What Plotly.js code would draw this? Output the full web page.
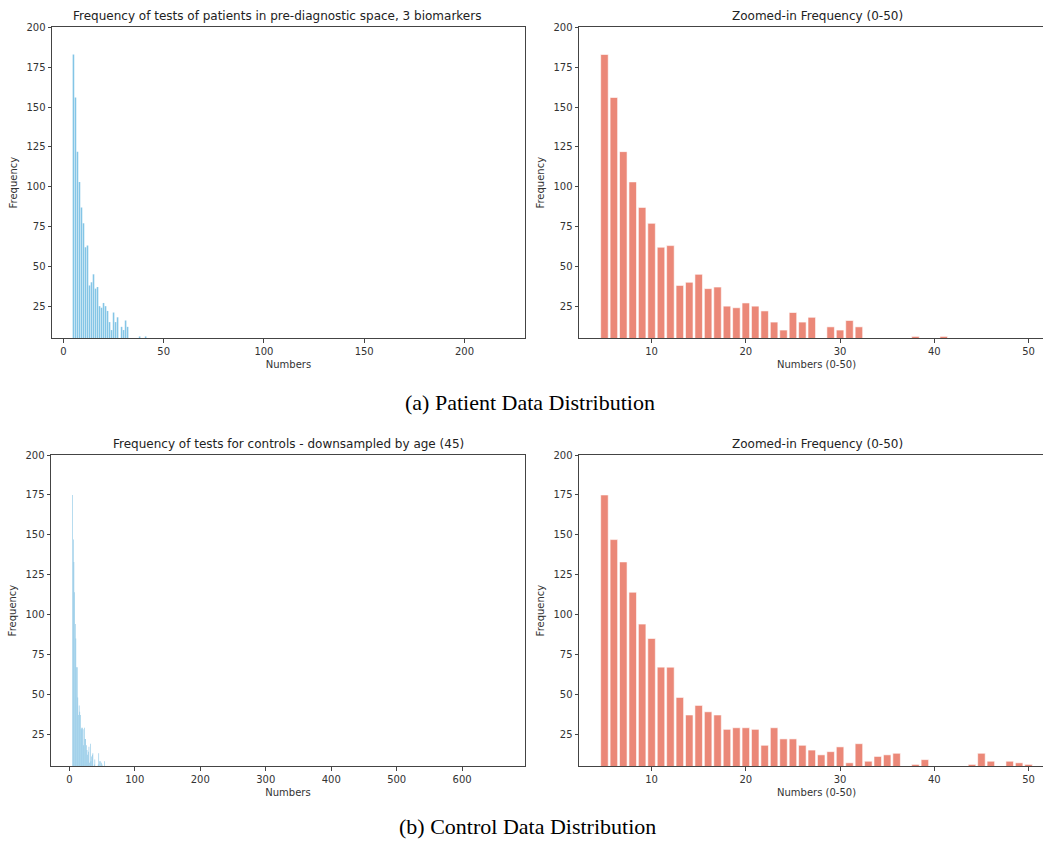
<!DOCTYPE html>
<html>
<head>
<meta charset="utf-8">
<script src="https://cdn.plot.ly/plotly-3.0.1.min.js"></script>
<style>
  html, body { margin: 0; padding: 0; background: #fff; overflow: hidden; }
  #chart { width: 1056px; height: 841px; }
</style>
</head>
<body>
<div id="chart"></div>
<script>
// Number of tests (x values)
const testNumbers = [5,6,7,8,9,10,11,12,13,14,15,16,17,18,19,20,21,22,23,24,25,26,27,28,29,30,
  31,32,33,34,35,36,37,38,39,40,41,42,43,44,45,46,47,48,49,50,51,52,53,54,55];

// Patients in pre-diagnostic space, 3 biomarkers
const patientFreq = [183,156,122,103,87,77,62,63,38,40,45,36,37,25,24,27,25,22,15,10,21,15,18,0,12,10,
  16,12,0,0,0,0,0,6,0,0,6,0,0,0,0,0,0,0,0,0,0,0,0,0,0];

// Controls, downsampled by age (45)
const controlFreq = [175,147,133,114,94,85,67,67,48,37,43,39,37,28,29,29,28,18,29,22,22,18,15,12,14,17,
  7,19,8,11,12,13,0,6,9,0,0,0,0,6,13,8,0,8,7,6,0,0,0,8,0];

const yTicks = [25,50,75,100,125,150,175,200];
const xTicksPatient = [0,50,100,150,200];
const xTicksControl = [0,100,200,300,400,500,600];
const xTicksZoom = [10,20,30,40,50];

const titles = {
  tl: "Frequency of tests of patients in pre-diagnostic space, 3 biomarkers",
  tr: "Zoomed-in Frequency (0-50)",
  bl: "Frequency of tests for controls - downsampled by age (45)",
  br: "Zoomed-in Frequency (0-50)",
  capA: "(a) Patient Data Distribution",
  capB: "(b) Control Data Distribution"
};

const W = 1056, H = 841;
const px = v => v / W;
const py = v => 1 - v / H;

const blue = "rgb(128,196,230)";
const salmon = "#EB8878";

const traces = [
  {type: "bar", x: testNumbers, y: patientFreq, width: 0.8, xaxis: "x", yaxis: "y",
   marker: {color: blue, line: {color: "rgba(255,255,255,0.5)", width: 0.2}}},
  {type: "bar", x: testNumbers, y: patientFreq, width: 0.8, xaxis: "x2", yaxis: "y2",
   marker: {color: salmon, line: {color: "#fff", width: 0.6}}},
  {type: "bar", x: testNumbers, y: controlFreq, width: 0.8, xaxis: "x3", yaxis: "y3",
   marker: {color: "rgb(110,185,225)", line: {color: "rgba(255,255,255,0.5)", width: 0.1}}},
  {type: "bar", x: testNumbers, y: controlFreq, width: 0.8, xaxis: "x4", yaxis: "y4",
   marker: {color: salmon, line: {color: "#fff", width: 0.6}}}
];

const tickFont = {family: "DejaVu Sans", size: 10, color: "#333"};
const titleFont = {family: "DejaVu Sans", size: 10, color: "#333"};

function xax(domain, range, ticks, title, anchor) {
  return {
    domain: domain, range: range, anchor: anchor,
    tickvals: ticks, ticks: "outside", ticklen: 3.5, tickwidth: 1, tickcolor: "#444",
    showline: true, linecolor: "#444", linewidth: 1, mirror: true,
    showgrid: false, zeroline: false, tickfont: tickFont,
    title: {text: title, font: titleFont, standoff: 5},
    automargin: false, fixedrange: true
  };
}
function yax(domain, anchor) {
  return {
    domain: domain, range: [5, 200], anchor: anchor,
    tickvals: yTicks, ticks: "outside", ticklen: 3.5, tickwidth: 1, tickcolor: "#444",
    showline: true, linecolor: "#444", linewidth: 1, mirror: true,
    showgrid: false, zeroline: false, tickfont: tickFont,
    title: {text: "Frequency", font: titleFont, standoff: 6},
    automargin: false, fixedrange: true
  };
}

const topY = [py(338), py(27.4)];
const botY = [py(766), py(455.1)];
const leftX = [px(52), px(525)];
const leftXb = [px(51), px(525)];
const rightX = [px(579), px(1054)];

const ann = (text, x, y, font) => ({text: text, x: px(x), y: py(y), xref: "paper", yref: "paper",
  showarrow: false, xanchor: "center", yanchor: "middle", font: font});
const subTitleFont = {family: "DejaVu Sans", size: 12, color: "#222"};
const capFont = {family: "Liberation Serif", size: 22, color: "#000"};

const layout = {
  width: W, height: H,
  margin: {l: 0, r: 0, t: 0, b: 0},
  paper_bgcolor: "#fff", plot_bgcolor: "#fff",
  showlegend: false, bargap: 0,
  xaxis: xax(leftX, [-5.7, 230.2], xTicksPatient, "Numbers", "y"),
  yaxis: yax(topY, "x"),
  xaxis2: xax(rightX, [2.3, 52.7], xTicksZoom, "Numbers (0-50)", "y2"),
  yaxis2: yax(topY, "x2"),
  xaxis3: xax(leftXb, [-28, 696], xTicksControl, "Numbers", "y3"),
  yaxis3: yax(botY, "x3"),
  xaxis4: xax(rightX, [2.3, 52.7], xTicksZoom, "Numbers (0-50)", "y4"),
  yaxis4: yax(botY, "x4"),
  annotations: [
    ann(titles.tl, 277, 16, subTitleFont),
    ann(titles.tr, 817, 16, subTitleFont),
    ann(titles.bl, 288, 444, subTitleFont),
    ann(titles.br, 817, 444, subTitleFont),
    ann(titles.capA, 530, 402, capFont),
    ann(titles.capB, 527, 826, capFont)
  ]
};

Plotly.newPlot("chart", traces, layout, {staticPlot: true, displayModeBar: false});
</script>
</body>
</html>
